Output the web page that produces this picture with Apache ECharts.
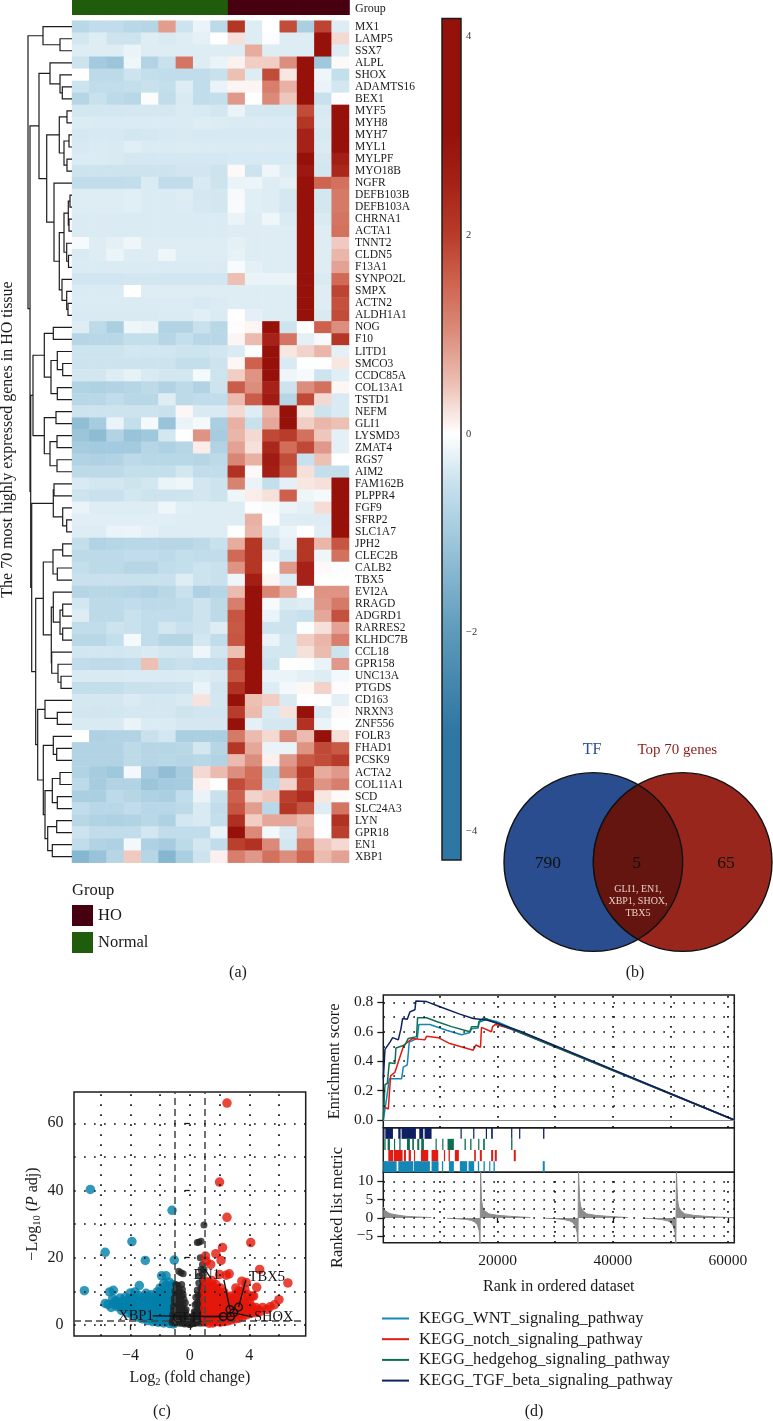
<!DOCTYPE html>
<html><head><meta charset="utf-8">
<style>html,body{margin:0;padding:0;background:#fff}#c{width:773px;height:1421px}</style>
<script src="https://cdn.jsdelivr.net/npm/echarts@6/dist/echarts.min.js"></script></head>
<body><div id="c"></div>
<script>
const FONT='"Liberation Serif",serif', INK='#1a1a1a';
const genes=['MX1','LAMP5','SSX7','ALPL','SHOX','ADAMTS16','BEX1','MYF5','MYH8','MYH7','MYL1','MYLPF','MYO18B','NGFR','DEFB103B','DEFB103A','CHRNA1','ACTA1','TNNT2','CLDN5','F13A1','SYNPO2L','SMPX','ACTN2','ALDH1A1','NOG','F10','LITD1','SMCO3','CCDC85A','COL13A1','TSTD1','NEFM','GLI1','LYSMD3','ZMAT4','RGS7','AIM2','FAM162B','PLPPR4','FGF9','SFRP2','SLC1A7','JPH2','CLEC2B','CALB2','TBX5','EVI2A','RRAGD','ADGRD1','RARRES2','KLHDC7B','CCL18','GPR158','UNC13A','PTGDS','CD163','NRXN3','ZNF556','FOLR3','FHAD1','PCSK9','ACTA2','COL11A1','SCD','SLC24A3','LYN','GPR18','EN1','XBP1'];
const sampleGroups=['Normal','Normal','Normal','Normal','Normal','Normal','Normal','Normal','Normal','HO','HO','HO','HO','HO','HO','HO'];
const heatValues=[
[-.7,-.6,-.6,-.7,-.75,.85,-.45,-.2,-.65,2.1,-.3,0,1.8,-.9,1.9,-.3],
[-.4,-.3,-.45,-.45,-.3,-.35,-.3,-.25,0,.25,-.3,-.05,-.3,-.3,3,.3],
[-.3,-.3,-.3,-.2,-.3,-.3,-.3,-.3,-.3,-.3,.7,-.3,-.3,-.3,3,-.3],
[-.45,-1,-1.1,-.15,-.8,-.5,1.3,-.3,-.2,.1,.4,.4,1,3.2,-1.05,.05],
[0,-.65,-.65,-.45,-.55,-.6,-.6,-.6,-.5,.5,-.3,1.8,.2,3.2,-.15,-.55],
[-.45,-.6,-.6,-.55,-.5,-.55,-.3,-.6,-.2,.08,.08,1.2,.65,3.2,-.2,-.4],
[-.75,-.5,-.65,-.7,-.05,-.6,-.35,-.6,-.55,.9,0,1.05,.45,3.2,-.5,0],
[-.4,-.4,-.4,-.38,-.38,-.38,-.33,-.36,-.4,-.2,-.38,-.4,-.4,1.8,-.36,3.2],
[-.32,-.33,-.33,-.33,-.33,-.33,-.33,-.3,-.32,-.33,-.33,-.33,-.33,2.1,-.33,3.2],
[-.38,-.36,-.36,-.4,-.38,-.36,-.35,-.36,-.36,-.36,-.36,-.36,-.36,2.5,-.36,3.2],
[-.36,-.33,-.35,-.28,-.33,-.33,-.32,-.33,-.33,-.33,-.33,-.33,-.33,2.5,-.33,3.2],
[-.33,-.33,-.35,-.38,-.38,-.38,-.38,-.38,-.38,-.36,-.36,-.36,-.36,3,-.38,2.6],
[-.45,-.45,-.45,-.45,-.45,-.45,-.42,-.42,-.45,.05,-.45,-.15,-.3,2.8,-.4,2.4],
[-.6,-.6,-.6,-.58,-.33,-.6,-.6,-.35,-.45,-.2,-.18,-.3,-.25,3.4,1.5,1.35],
[-.3,-.3,-.3,-.28,-.33,-.33,-.3,-.38,-.4,-.08,-.28,-.3,-.38,3.4,-.4,1.25],
[-.3,-.3,-.3,-.28,-.33,-.33,-.31,-.37,-.4,-.07,-.28,-.3,-.38,3.4,-.4,1.25],
[-.33,-.33,-.33,-.33,-.33,-.33,-.33,-.33,-.33,-.2,-.3,-.15,-.33,3.4,-.35,1.3],
[-.33,-.33,-.33,-.33,-.33,-.33,-.33,-.33,-.33,-.3,-.3,-.3,-.3,3.4,-.3,1.35],
[-.08,-.3,-.25,-.15,-.3,-.3,-.3,-.3,-.3,-.25,-.3,-.3,-.3,3.4,-.3,.42],
[-.35,-.3,-.18,-.3,-.3,-.15,-.3,-.3,-.3,-.22,-.3,-.3,-.3,3.4,-.3,.6],
[-.33,-.33,-.33,-.33,-.33,-.33,-.33,-.33,-.33,-.06,-.25,-.3,-.3,3.4,-.3,.8],
[-.42,-.42,-.42,-.4,-.4,-.42,-.42,-.42,-.42,.5,-.2,-.2,-.2,3.4,-.35,1.45],
[-.33,-.33,-.33,0,-.3,-.3,-.3,-.3,-.3,-.3,-.3,-.3,-.3,3.4,-.3,1.9],
[-.33,-.33,-.33,-.33,-.33,-.33,-.33,-.36,-.33,-.3,-.3,-.3,-.3,3.4,-.3,1.75],
[-.35,-.35,-.35,-.35,-.35,-.33,-.33,-.28,-.33,0,-.25,-.3,-.3,3.4,-.35,1.8],
[-.3,-.65,-.9,-.15,-.2,-.8,-.8,-.5,-.7,.02,.08,3.2,-.45,0,1.55,1],
[-.75,-.7,-.7,-.55,-.55,-.75,-.55,-.7,-.7,.08,.55,2.5,1.3,-.25,-.08,2.1],
[-.45,-.45,-.45,-.4,-.42,-.42,-.45,-.45,-.42,-.33,-.03,3.2,.2,.35,.6,-.25],
[-.45,-.45,-.45,-.45,-.45,-.45,-.55,-.55,-.45,.07,1.55,3.2,-.35,-.02,-.01,.2],
[-.4,-.4,-.3,-.22,-.35,-.4,-.4,-.1,-.45,.4,.95,3.2,-.15,-.08,-.45,-.28],
[-.8,-.85,-.8,-.75,-.65,-.8,-.65,-.8,-.45,1.6,1,2.5,-.45,1,1.35,.07],
[-.7,-.7,-.6,-.7,-.7,-.3,-.65,-.6,-.6,.55,1.6,2.7,-.75,1.85,.3,-.35],
[-.45,-.45,-.45,-.45,-.45,-.5,.07,-.35,-.35,.3,-.3,.6,3.4,.2,-.45,-.35],
[-1.25,-.95,-.2,-.55,-.1,-1.15,-.2,-.1,-.9,.65,-.5,.75,3.4,.4,.6,.5],
[-1.1,-1.3,-.8,-1.15,-1.05,-.4,0,.95,-.95,.6,.3,1.85,2,1.35,.45,-.25],
[-.95,-1,-1,-1,-.75,-.85,-.75,.15,-.8,.8,.25,2.4,1.4,1.85,.9,-.25],
[-.8,-.85,-.8,-.65,-.7,-.7,-.7,-.75,-.65,1.1,.65,2.7,1.8,-.5,.5,0],
[-.65,-.65,-.65,-.55,-.55,-.55,-.4,-.6,-.6,2.2,.05,2.6,1.65,.25,-.55,-.55],
[-.35,-.4,-.4,-.45,-.4,-.2,-.15,-.4,-.45,1.15,-.2,-.55,-.25,.2,.25,3.2],
[-.45,-.5,-.5,-.4,-.45,-.45,-.45,-.4,-.45,-.15,.15,.25,1.55,-.15,-.1,3.2],
[-.2,-.3,-.3,-.3,-.3,-.15,-.28,-.3,-.3,-.3,-.03,-.07,-.2,-.25,.28,3.2],
[-.28,-.28,-.28,-.28,-.28,-.28,-.3,-.3,-.3,-.3,.65,-.03,-.3,-.3,-.3,3.2],
[-.3,-.3,-.2,-.18,-.25,-.3,-.3,-.3,-.3,0,.6,-.3,-.18,-.02,-.28,3.2],
[-.55,-.8,-.75,-.7,-.7,-.75,-.75,-.65,-.5,.7,2.1,-.45,-.25,2.1,.6,1.7],
[-.65,-.65,-.65,-.6,-.6,-.65,-.55,-.6,-.6,1.45,2.1,-.2,-.4,2.1,-.15,1.35],
[-.55,-.65,-.65,-.75,-.75,-.6,-.55,-.45,-.5,.95,2.1,0,.9,2.5,.05,-.03],
[-.5,-.5,-.5,-.5,-.5,-.5,-.3,-.45,-.5,-.15,2.6,.08,-.3,2.5,-.02,-.02],
[-.75,-.7,-.7,-.75,-.8,-.7,-.5,-.85,-.75,.55,3,1.1,.7,0,.95,.95],
[-.4,-.65,-.65,-.6,-.65,-.65,-.6,-.45,-.65,1.2,3.2,-.08,-.35,-.3,.9,1.25],
[-.3,-.65,-.65,-.5,-.6,-.6,-.6,-.45,-.65,1.7,3,-.2,-.45,-.5,.75,1.75],
[-.6,-.6,-.45,-.5,-.6,-.4,-.5,-.45,-.3,1.65,3.2,-.45,-.45,-.03,.25,.8],
[-.7,-.7,-.55,-.1,-.6,-.75,-.75,-.4,-.6,1.7,3,-.2,-.4,.4,.6,1.2],
[-.42,-.42,-.42,-.38,-.35,-.4,-.42,-.15,-.42,.5,3.2,-.4,-.4,.25,.55,-.45],
[-.6,-.62,-.62,-.58,.5,-.55,-.5,-.55,-.55,1.85,3,-.45,0,-.03,-.2,.9],
[-.35,-.35,-.35,-.33,-.33,-.35,-.33,-.3,-.35,1.7,3.2,-.2,-.2,-.25,-.3,-.12],
[-.55,-.55,-.55,-.48,-.48,-.48,-.45,-.2,-.42,2.2,3.1,-.3,-.12,.06,.35,.02],
[-.38,-.38,-.38,-.33,-.38,-.38,-.35,.22,-.4,3.1,.5,.4,-.35,0,-.02,-.25],
[-.4,-.42,-.4,-.38,-.38,-.38,-.45,-.42,-.42,2,.55,-.35,.22,3.2,-.35,.05],
[-.35,-.35,-.35,-.2,-.33,-.33,-.38,-.38,-.38,3.1,-.25,-.38,-.38,2.2,-.2,-.02],
[0,-.85,-.8,-.8,-.5,-.4,-.9,-.9,-.9,1.25,.55,.3,1,.55,3,.25],
[-.8,-.8,-.8,-.65,-.75,-.75,-.7,-.4,-.75,2.1,.75,-.2,-.2,.95,1.85,1.65],
[-.8,-.8,-.8,-.65,-.75,-.7,-.75,-.7,-.8,.55,1,.12,.9,1.65,1.8,2],
[-.8,-.95,-1.05,-.12,-.95,-1.25,-.95,.3,.55,1,1.4,-.75,1.15,2.05,.7,.9],
[-.65,-.95,-.8,-.8,-1.1,-1,-.95,.12,0,1.8,1.45,-.6,.35,1.9,.95,1.2],
[-.9,-.9,-.65,-.75,-.85,-.9,-.6,-.2,-.5,1.55,.35,.45,1.95,2.3,.2,.04],
[-.6,-.7,-.7,-.6,-.7,-.7,-.65,-.35,-.6,1.7,.85,-.7,2.1,1.7,-.3,1.3],
[-.7,-.8,-.85,-.8,-.7,-.85,-.4,-.35,-.55,2.25,.4,.75,.75,.55,-.03,2.2],
[-.45,-.6,-.6,-.6,-.4,-.6,-.6,-.6,-.2,3,1.05,-.12,-.35,.65,0,1.95],
[-.6,-.8,-.85,-.12,-.85,-.95,-.65,-.4,-.6,1.95,2.2,1.05,-.4,1.25,.45,.3],
[-1.4,-1.15,-.75,.42,-.75,-1.4,-.9,-.45,.12,1.2,.9,1.35,1,1.5,.55,.8]
];
// value -> colour stops for the heat scale
const scaleStops=[-4.5,-4,-3.5,-3,-2.5,-2,-1.5,-1,-.5,0,.5,1,1.5,2,2.5,3,3.5,4,4.5];
const scaleColors=['#2e76a3','#2e76a3','#2e76a3','#2e76a3','#4487ae','#5d9aba','#7fb2cc','#a3cade','#c8e1ed','#ffffff','#edc0b4','#dc8e7e','#cf6551','#b83c2a','#a62218','#96110a','#96110a','#96110a','#96110a'];
const colorbarTicks=[-4,-2,0,2,4];
// dendrogram: [branch position, childA, childB]; a number child is a gene row
const treeA=[43,0,[60,1,2]];
const treeB=[50,3,[60,4,[62.3,5,6]]];
const treeC=[46.7,[59.3,[67,7,8],[64,[69,9,10],[67,11,12]]],[54,13,[59.3,[64,[68.3,[70,14,15],[69,16,17]],[66.7,18,[68.5,19,20]]],[62,21,[66.7,22,[68,23,24]]]]]];
const treeM=[33,[44.3,[53.3,25,26],[51,[57.3,27,[62.7,28,29]],[57.3,30,31]]],[44.3,[56,32,33],[50,[57,34,35],[57,36,37]]]];
const treeT=[53.3,[54,38,39],[62.7,40,[66.7,41,42]]];
const treeF=[43.3,[53,[62.7,43,44],[57.3,45,46]],[51.3,[53.3,47,[60,[62.7,48,49],[62.7,50,51]]],[51.7,52,[58,53,[61,54,55]]]]];
const treeS=[37.7,[45,56,[57.3,57,58]],[43.3,[53.3,59,[56.7,60,61]],[45,[52.3,[60,62,63],[57.3,64,65]],[47.7,[56.7,66,67],[52.3,68,69]]]]];
const treeRoot=[28,treeA,[30,[39,treeB,treeC],[30.7,treeM,[31.7,treeT,[35.7,treeF,treeS]]]]];

const vennNames=['TF','Top 70 genes'];
const vennCounts=[790,5,65];
const vennShared=['GLI1, EN1,','XBP1, SHOX,','TBX5'];

const volcanoDown=[[-6.7,40.3],[-1.2,34.1],[-3.9,24.8],[-5.7,21.6],[-3,19.2],[-1.05,19.3],[-7.1,10.2],[-5.7,6.4],[-5.5,6.1],[-5.3,5.2],[-5.4,9.8],[-5.15,10.3],[-5,7.2],[-4.9,5.4],[-4.8,6.5],[-4.6,4.3],[-4.5,7],[-4.3,5.2],[-4.2,3.6],[-4.1,7.8],[-4,9.5],[-3.9,6],[-3.85,2.9],[-3.75,4.5],[-3.7,9.8],[-3.6,7.4],[-3.5,2.3],[-3.45,5.5],[-3.4,11.7],[-3.3,3.8],[-3.25,8.1],[-3.2,1.8],[-3.1,6.2],[-3,4.6],[-2.95,9.4],[-2.85,1.3],[-2.8,7.4],[-2.75,3],[-2.65,5.6],[-2.6,9],[-2.5,1],[-2.45,7.2],[-2.4,3.8],[-2.3,2.1],[-2.25,5.3],[-2.2,9.8],[-2.15,.8],[-2.1,7.4],[-2.05,3.6],[-2,11],[-1.95,5.4],[-1.9,1.6],[-1.85,9],[-1.9,14.6],[-1.75,.6],[-1.7,7.2],[-1.65,3],[-1.6,11.8],[-1.55,5],[-1.6,14.6],[-1.5,1.2],[-1.45,9.4],[-1.4,12.8],[-1.35,7],[-1.35,.4],[-1.3,3],[-1.25,10.8],[-1.25,5],[-1.2,1.4],[-1.15,8.4],[-1.15,12],[-1.1,3.6],[-1.1,.3],[-1.05,6.2],[-1.05,10],
[-5.2,7.8],[-5.1,6.2],[-4.7,8],[-4.7,5.6],[-4.4,6.1],[-4.35,8.2],[-4.1,4.6],[-4.05,6.5],[-3.85,8],[-3.65,3.2],[-3.6,5.2],[-3.55,6.3],[-3.45,8.8],[-3.4,3],[-3.2,4.9],[-3.15,7.2],[-3.1,2.7],[-3,8.4],[-2.95,3.4],[-2.9,5.5],[-2.9,2],[-2.7,8.4],[-2.7,4.6],[-2.6,2.2],[-2.55,6.4],[-2.45,4.8],[-2.4,8.2],[-2.35,1.4],[-2.3,6.4],[-2.2,4.4],[-2.2,2.9],[-2.15,8.5],[-2.05,6.4],[-2,1],[-2,9.6],[-1.95,2.6],[-1.9,4.4],[-1.85,6.4],[-1.8,8],[-1.8,10.5],[-1.75,2.2],[-1.75,12.4],[-1.7,4.2],[-1.65,6],[-1.6,1.2],[-1.6,9.6],[-1.5,8],[-1.5,2.3],[-1.5,4],[-1.5,6.2],[-1.45,11],[-1.4,3.8],[-1.35,5.8],[-1.3,1.4],[-1.3,9],[-1.2,2.6],[-1.2,7.2],[-1.15,4.4],[-1.1,1.2],[-1.1,5.4],[-1.05,2.2],[-1.05,8.2],[-1.05,11.6]];
const volcanoFlat=[[-1.2,.8],[-1.15,3],[-1.1,5.5],[-1.05,8],[-1,.5],[-1,2.2],[-1,10],[-.95,12],[-.9,4],[-.9,6.5],[-.85,1],[-.8,8.5],[-.8,11.8],[-.75,3],[-.7,.5],[-.7,5.4],[-.65,10],[-.6,7.4],[-.6,2],[-.55,12],[-.5,.5],[-.5,4],[-.45,6],[-.45,9],[-.4,2],[-.35,.3],[-.3,3.8],[-.3,6.6],[-.25,1.3],[-.2,2.8],[-.15,.4],[-.1,1.2],[-.05,.2],[0,.1],[-.75,16],[-.6,15.5],[-.45,15.2],[.05,.2],[.1,1],[.15,.4],[.2,2.6],[.25,1],[.3,4],[.3,.4],[.35,6],[.4,2.4],[.4,8.2],[.45,.6],[.5,4.6],[.5,10.4],[.55,7],[.55,1.6],[.6,12.5],[.6,3],[.65,9],[.65,14.6],[.7,5.5],[.7,.5],[.75,11],[.75,16.5],[.8,2.2],[.8,7.8],[.85,13.2],[.85,18],[.9,4.5],[.9,10],[.95,.6],[.95,6.8],[.7,20],[.95,29.7],[.6,24.6],[.75,24.9],[.5,24.5],
[-1.15,1.6],[-1.1,4.2],[-1.05,6.8],[-.95,3.2],[-.95,9],[-.9,1.8],[-.9,11],[-.85,5.2],[-.8,7.2],[-.75,1.8],[-.75,4.4],[-.7,9.6],[-.65,3.4],[-.65,6.2],[-.6,.9],[-.55,5],[-.55,8.6],[-.5,2.8],[-.5,10.5],[-.45,1.2],[-.4,4.6],[-.4,7.6],[-.35,2.8],[-.3,1.2],[-.25,4.6],[.25,2.6],[.35,1.6],[.35,3.6],[.45,3.2],[.45,6.4],[.5,1.2],[.55,8.8],[.6,5.4],[.65,2],[.65,4],[.7,7],[.75,3.6],[.75,9.4],[.8,5.6],[.8,1],[.85,3],[.85,11.6],[.9,7.8],[.9,1.8],[.95,3.4],[.95,12],[.95,9],[.9,15],[.95,16.5]];
const volcanoUp=[[2.5,66],[2,42.5],[2.5,32],[4.1,24.5],[2.2,23],[1.05,20.5],[1.75,21.2],[2.1,19.2],[1.1,19],[1.4,18],[2,15],[2.65,15.2],[2.45,14.8],[4.7,16.5],[6.6,12.5],[3.5,13],[3.8,12.6],[4.5,11.2],[3.7,10.6],[3.1,11],[3.3,10.2],[4.3,8.6],[3.9,9],[1.05,1],[1.05,3.6],[1.05,6.2],[1.05,8.8],[1.05,11.4],[1.05,13],[1.3,.5],[1.3,2.6],[1.3,5.2],[1.3,7.8],[1.3,10.2],[1.3,12.6],[1.55,.6],[1.55,3.6],[1.55,6.4],[1.55,9],[1.55,11.6],[1.5,13.2],[1.8,1],[1.8,2.8],[1.8,5],[1.8,7.6],[1.8,10],[1.75,12],[2.05,.8],[2.05,3.6],[2.05,6.2],[2.05,8.8],[2.05,11],[2.3,1],[2.3,3],[2.3,5.2],[2.3,7.6],[2.3,9.6],[2.55,1.2],[2.55,3.4],[2.55,6],[2.55,8.2],[2.8,1.5],[2.8,4],[2.8,6.4],[2.8,8.6],[3.05,1.8],[3.05,4.2],[3.05,6.4],[3.1,9.2],[3.3,2],[3.3,4.4],[3.3,7.2],[3.5,9.8],[3.55,2.4],[3.55,5],[3.6,7.4],[3.8,3],[3.85,5.6],[3.9,8.2],[4.1,3.4],[4.15,5.6],[4.2,8.5],[4.4,3.6],[4.45,5.2],[4.75,4],[4.9,5.2],[5.2,4.6],[5.4,5.4],[5.7,6],[6,7.5],
[1,2.3],[1,5],[1,7.5],[1,10],[1.2,1.5],[1.2,4],[1.2,6.5],[1.2,9],[1.2,11.4],[1.45,1.5],[1.45,4.5],[1.45,7.6],[1.45,10.4],[1.7,2],[1.7,3.8],[1.7,6.2],[1.7,8.8],[1.7,11],[1.95,1.6],[1.95,4.6],[1.95,7.4],[1.95,10],[2.2,2],[2.2,4.2],[2.2,6.4],[2.2,8.6],[2.45,2.2],[2.45,4.6],[2.45,7],[2.7,2.6],[2.7,5.2],[2.7,7.4],[2.95,3],[2.95,5.4],[2.95,7.6],[3.2,3.2],[3.2,5.4],[3.2,8.2],[3.45,3.4],[3.45,6.2],[3.7,4],[3.7,6.4],[4,4.6],[4,6.8],[4.3,4.4],[4.6,4.6]];
const volcanoGenes=['EN1','TBX5','SHOX','XBP1','GLI1'];
const volcanoGeneX=[2.7,3.28,2.95,2.75,2.25];
const volcanoGeneY=[4.6,5.3,3.6,2.5,2.5];
const geneLabelX=[1.14,5.18,5.65,-3.63,-.13];
const geneLabelY=[14.9,14.3,2.4,2.7,2.1];
const geneLeadX=[2.29,3.77,4.2,-2.5,.9];
const geneLeadY=[13.4,13.4,2.4,2.7,2.4];
const volcanoGridX=[-6,-4,-2,0,2,4,6];
const volcanoGridY=[0,10,20,30,40,50,60];
const volcanoTicksX=[-4,0,4];
const volcanoTicksY=[0,20,40,60];

const pathways=['KEGG_WNT_signaling_pathway','KEGG_notch_signaling_pathway','KEGG_hedgehog_signaling_pathway','KEGG_TGF_beta_signaling_pathway'];
const pathwayColors=['#1487b4','#e31a12','#0e6e50','#0f2060'];
const esWNT=[[150,0],[730,.147],[1190,.28],[3330,.28],[3620,.36],[4310,.375],[4660,.53],[6050,.555],[6330,.65],[8240,.65],[11130,.61],[13730,.58],[15180,.595],[15470,.62],[16620,.625],[16800,.665],[18070,.685],[19800,.67],[23270,.61],[61100,0]];
const esNotch=[[150,.09],[1020,.075],[1420,.3],[2170,.325],[2750,.395],[3730,.51],[5240,.555],[7370,.545],[7660,.57],[9690,.56],[11710,.52],[15760,.475],[16220,.51],[17030,.495],[17200,.63],[18940,.6],[19110,.635],[19630,.65],[20960,.635],[22980,.61],[61100,0]];
const esHedgehog=[[150,0],[440,.24],[845,.25],[1190,.39],[2170,.385],[2350,.49],[3910,.51],[4490,.555],[5930,.567],[6100,.695],[7660,.695],[9400,.67],[12000,.635],[15180,.6],[15470,.635],[16620,.635],[16740,.67],[17610,.695],[19800,.66],[61100,0]];
const esTGF=[[150,.28],[440,.48],[1306,.53],[1770,.56],[2750,.545],[3210,.62],[3500,.69],[4310,.685],[4770,.735],[5640,.75],[5810,.81],[7660,.805],[9980,.77],[13440,.72],[15760,.69],[18070,.68],[19800,.66],[24140,.6],[61100,0]];
const hitsWNT=[[150,2462],[2751,5352],[5468,8242],[8531,9745],[10323,10554],[11537,12404],[13444,14716],[14947,15929],[16565,16796],[17548,17779],[18530,18704],[19282,19513],[27836,28183]];
const hitsNotch=[[1017,1884],[2000,3502],[3734,4080],[4543,4947],[5468,5641],[6681,7953],[8531,9687],[10670,10843],[11479,11710],[12577,13271],[15929,16218],[16912,17259],[18877,19224],[19513,19860],[22808,23154]];
const hitsHedgehog=[[323,554],[901,1306],[2000,2115],[2924,3156],[4254,4774],[5179,5468],[6046,6392],[6739,7202],[9225,9398],[10381,10554],[11305,12404],[14253,14484],[15236,15467],[16623,16796],[17490,17779],[22345,22576]];
const hitsTGF=[[150,323],[497,1826],[2751,3156],[3329,5814],[6392,7086],[7317,8531],[13560,13733],[15756,15872],[17952,18068],[18877,19166],[22345,22461],[23732,23848],[27894,28125]];
const metricRank=[150,300,600,1000,1500,2500,4000,6000,8500,null,11200,13000,14500,15500,16000,16500,16800,16950,17000,17050,17100,17200,17400,17700,18500,20000,22000,24000,25700,null,28300,30000,31500,32500,33000,33500,33800,33950,34000,34050,34150,34250,34450,34800,35500,37000,39000,41000,42600,null,45200,47000,48500,49500,50000,50500,50800,50950,51000,51050,51150,51250,51450,51800,52500,54000,56000,58000,61000];
const metricValue=[3,2.2,1.7,1.4,1.1,.8,.45,.25,.1,null,-.1,-.25,-.4,-.7,-1.1,-1.9,-3.5,-7,-7,12.5,12.5,5,3,2,1.1,.7,.45,.25,.1,null,-.1,-.2,-.45,-.8,-1.2,-2.2,-4,-7,-7,12.5,12.5,5,3,2,1.1,.7,.45,.25,.1,null,-.1,-.2,-.45,-.8,-1.2,-2.2,-4,-7,-7,12.5,12.5,5,3,2,1.1,.7,.45,.25,.05];
const rankGrid=[10000,20000,30000,40000,50000,60000];
const esGrid=[.1,.2,.3,.4,.5,.6,.7,.8];
const metricGrid=[-5,-2.5,0,2.5,5,7.5,10];
const rankTicks=[20000,40000,60000];
const esTicks=[0,.2,.4,.6,.8];
const metricTicks=[-5,0,5,10];

// ---- build ----
const minus=v=>String(v).replace('-','\u2212');
const text=(style)=>Object.assign({fontFamily:FONT,color:INK},style);
const hidden=(o)=>Object.assign({show:false},o);
const heatData=[];
heatValues.forEach((r,y)=>r.forEach((v,x)=>heatData.push([x,y,v])));
const samples=sampleGroups.map((g,i)=>g+(i+1));

const branches=[];
(function walk(n){
  if(typeof n==='number') return {x:72,y:n};
  const a=walk(n[1]),b=walk(n[2]);
  branches.push([a.x,a.y,n[0],b.y,b.x]);
  return {x:n[0],y:(a.y+b.y)/2};
})(treeRoot);

function dotted(xi,yi,xs,ys,style){
  return {type:'line',xAxisIndex:xi,yAxisIndex:yi,data:[],silent:true,z:1,
    markLine:{silent:true,symbol:'none',label:{show:false},animation:false,
      lineStyle:Object.assign({color:'#111',width:1.7,type:[1.7,8.3]},style||{}),
      data:xs.map(v=>({xAxis:v})).concat(ys.map(v=>({yAxis:v})))}};
}
const frame={show:true,borderColor:'#1c1c1c',borderWidth:1.5,backgroundColor:'transparent'};
const barAxis=(g)=>hidden({type:'value',gridIndex:g,min:0,max:1});
function annotationCell(p,api){
  const c=api.coord([api.value(0),0]), top=api.coord([api.value(0),1]);
  const w=api.size([1,0])[0];
  return {type:'rect',shape:{x:c[0]-w/2,y:top[1],width:w+.8,height:c[1]-top[1]},style:{fill:api.visual('color')}};
}

const option={
  animation:false,
  backgroundColor:'#fff',
  textStyle:{fontFamily:FONT,color:INK},
  visualMap:[{show:false,type:'continuous',seriesIndex:2,min:-4.5,max:4.5,inRange:{color:scaleColors}}],
  legend:[
    {left:72,top:905,orient:'vertical',itemWidth:21,itemHeight:21,itemGap:6,selectedMode:false,data:['HO','Normal'],icon:'rect',
     textStyle:text({fontSize:16.5}),padding:0,itemStyle:{borderWidth:0}},
    {left:382,top:1310,orient:'vertical',itemWidth:27,itemHeight:2,icon:'rect',itemGap:3.7,selectedMode:false,data:pathways,
     textStyle:text({fontSize:16.5,padding:[0,0,0,5]}),padding:0}
  ],
  grid:[
    {left:72,top:0,width:277,height:15,show:false},                 //0 annotation
    {left:72,top:20.7,width:277,height:842,show:false},             //1 heat
    {left:0,top:20.7,width:72,height:842,show:false},               //2 tree
    {left:442,top:18.5,width:19,height:841.5,show:false},           //3 colorbar
    {left:504,top:773,width:268,height:178,show:false},             //4 venn
    Object.assign({left:74,top:1092,width:231.7,height:244},frame), //5 volcano
    Object.assign({left:383.3,top:995,width:351,height:132.7},frame),//6 ES
    Object.assign({left:383.3,top:1127.7,width:351,height:44.6},frame),//7 rug
    Object.assign({left:383.3,top:1172.3,width:351,height:70.4},frame)//8 metric
  ],
  xAxis:[
    hidden({type:'category',gridIndex:0,data:samples}),
    hidden({type:'category',gridIndex:1,data:samples}),
    hidden({type:'value',gridIndex:2,min:0,max:72}),
    barAxis(3),
    hidden({type:'value',gridIndex:4,min:0,max:3}),
    {type:'value',gridIndex:5,min:-7.8,max:7.8,splitLine:{show:false},axisLine:{show:false},
     axisTick:{show:true,length:5,lineStyle:{color:'#1c1c1c',width:1.3},customValues:volcanoTicksX},
     axisLabel:{show:true,customValues:volcanoTicksX,formatter:minus,margin:12,fontFamily:FONT,fontSize:16,color:INK,hideOverlap:false,showMinLabel:true,showMaxLabel:true},
     name:'{n|Log}{s|2}{n| (fold change)}',nameLocation:'middle',nameGap:32,
     nameTextStyle:{rich:{n:{fontFamily:FONT,fontSize:16,color:INK,lineHeight:20},s:{fontFamily:FONT,fontSize:10.5,color:INK,verticalAlign:'bottom',lineHeight:20}}}},
    hidden({type:'value',gridIndex:6,min:150,max:61100}),
    hidden({type:'value',gridIndex:7,min:150,max:61100}),
    {type:'value',gridIndex:8,min:150,max:61100,splitLine:{show:false},axisLine:{show:false},
     axisTick:{show:true,length:5,lineStyle:{color:'#1c1c1c',width:1.3},customValues:rankTicks},
     axisLabel:{show:true,customValues:rankTicks,formatter:v=>String(v),margin:10,fontFamily:FONT,fontSize:15.5,color:INK},
     name:'Rank in ordered dataset',nameLocation:'middle',nameGap:36,nameTextStyle:text({fontSize:16})}
  ],
  yAxis:[
    barAxis(0),
    {type:'category',gridIndex:1,data:genes,inverse:true,position:'right',axisLine:{show:false},axisTick:{show:false},splitLine:{show:false},
     axisLabel:{interval:0,margin:6,fontFamily:FONT,fontSize:11.5,color:INK}},
    hidden({type:'value',gridIndex:2,min:-.5,max:69.5,inverse:true}),
    {type:'value',gridIndex:3,min:-4.29,max:4.18,position:'right',splitLine:{show:false},axisLine:{show:false},
     axisTick:{show:true,length:6,lineStyle:{color:'#222',width:1},customValues:colorbarTicks},
     axisLabel:{show:true,customValues:colorbarTicks,formatter:minus,margin:5,fontFamily:FONT,fontSize:10.5,color:'#333'}},
    hidden({type:'value',gridIndex:4,min:-1,max:1}),
    {type:'value',gridIndex:5,min:-3.3,max:69.3,splitLine:{show:false},axisLine:{show:false},
     axisTick:{show:true,length:5,lineStyle:{color:'#1c1c1c',width:1.3},customValues:volcanoTicksY},
     axisLabel:{show:true,customValues:volcanoTicksY,margin:10.5,fontFamily:FONT,fontSize:16,color:INK},
     name:'{n|\u2212Log}{s|10}{n| (}{i|P}{n| adj)}',nameLocation:'middle',nameGap:31,
     nameTextStyle:{rich:{n:{fontFamily:FONT,fontSize:16,color:INK,lineHeight:20},i:{fontFamily:FONT,fontStyle:'italic',fontSize:16,color:INK,lineHeight:20},s:{fontFamily:FONT,fontSize:10.5,color:INK,verticalAlign:'bottom',lineHeight:20}}}},
    {type:'value',gridIndex:6,min:-.052,max:.85,splitLine:{show:false},axisLine:{show:false},
     axisTick:{show:true,length:6,lineStyle:{color:'#1c1c1c',width:1.3},customValues:esTicks},
     axisLabel:{show:true,customValues:esTicks,formatter:v=>v.toFixed(1),margin:10,fontFamily:FONT,fontSize:15.5,color:INK},
     name:'Enrichment score',nameLocation:'middle',nameGap:40,nameTextStyle:text({fontSize:16.5})},
    hidden({type:'value',gridIndex:7,min:0,max:4,inverse:true}),
    {type:'value',gridIndex:8,min:-6.8,max:12.5,splitLine:{show:false},axisLine:{show:false},
     axisTick:{show:true,length:6,lineStyle:{color:'#1c1c1c',width:1.3},customValues:metricTicks},
     axisLabel:{show:true,customValues:metricTicks,formatter:minus,margin:10,fontFamily:FONT,fontSize:15.5,color:INK},
     name:'Ranked list metric',nameLocation:'middle',nameGap:37,nameTextStyle:text({fontSize:16.5})}
  ],
  series:[
    // 0,1 annotation bar
    {name:'Normal',type:'custom',xAxisIndex:0,yAxisIndex:0,silent:true,itemStyle:{color:'#1f5c0c'},renderItem:annotationCell,
     data:sampleGroups.map((g,i)=>[i,g]).filter(d=>d[1]==='Normal').map(d=>[d[0]])},
    {name:'HO',type:'custom',xAxisIndex:0,yAxisIndex:0,silent:true,itemStyle:{color:'#47000f'},renderItem:annotationCell,
     data:sampleGroups.map((g,i)=>[i,g]).filter(d=>d[1]==='HO').map(d=>[d[0]])},
    // 2 heat
    {type:'heatmap',xAxisIndex:1,yAxisIndex:1,data:heatData,itemStyle:{borderWidth:0},progressive:0},
    // 3 tree
    {type:'custom',xAxisIndex:2,yAxisIndex:2,data:branches,silent:true,renderItem(p,api){
      const b=branches[p.dataIndex];
      const pts=[[b[0],b[1]],[b[2],b[1]],[b[2],b[3]],[b[4],b[3]]].map(c=>api.coord(c));
      return {type:'polyline',shape:{points:pts},style:{stroke:'#1c1c1c',lineWidth:1.2,fill:null}};
    }},
    // 4 colour bar
    {type:'custom',xAxisIndex:3,yAxisIndex:3,data:[[-4.29,4.18]],silent:true,renderItem(p,api){
      const lo=api.value(0),hi=api.value(1);
      const a=api.coord([0,hi]),b=api.coord([1,lo]);
      const stops=scaleStops.map((v,i)=>({offset:(hi-v)/(hi-lo),color:scaleColors[i]})).filter(s=>s.offset>=0&&s.offset<=1);
      stops.sort((m,n)=>m.offset-n.offset);
      return {type:'rect',shape:{x:a[0],y:a[1],width:b[0]-a[0],height:b[1]-a[1]},
        style:{fill:new echarts.graphic.LinearGradient(0,0,0,1,stops),stroke:'#1c1c1c',lineWidth:1.5}};
    }},
    // 5 venn
    {type:'custom',xAxisIndex:4,yAxisIndex:4,data:[vennCounts],silent:true,renderItem(p,api){
      const c1=api.coord([1,0]),c2=api.coord([2,0]);
      const r=api.size([1,0])[0];
      const mx=(c1[0]+c2[0])/2, h=Math.sqrt(r*r-(mx-c1[0])*(mx-c1[0]));
      const stroke={stroke:'#111',lineWidth:1.4};
      const label=(s,x,y,st)=>{const q=api.coord([x,y]);return {type:'text',x:q[0],y:q[1],style:Object.assign({text:s,align:'center',verticalAlign:'middle',fontFamily:FONT},st)};};
      return {type:'group',children:[
        {type:'circle',shape:{cx:c1[0],cy:c1[1],r:r},style:Object.assign({fill:'#2a4d8f'},stroke)},
        {type:'circle',shape:{cx:c2[0],cy:c2[1],r:r},style:Object.assign({fill:'#98261c'},stroke)},
        {type:'path',shape:{pathData:`M ${mx} ${c1[1]-h} A ${r} ${r} 0 0 1 ${mx} ${c1[1]+h} A ${r} ${r} 0 0 1 ${mx} ${c1[1]-h} Z`},style:Object.assign({fill:'#64150f'},stroke)},
        label(vennNames[0],.985,1.26,{fontSize:16,fill:'#2a4d8f'}),
        label(vennNames[1],1.94,1.26,{fontSize:15,fill:'#8a1f18'}),
        label(String(api.value(0)),.49,-.02,{fontSize:17.5,fill:'#111'}),
        label(String(api.value(1)),1.485,-.02,{fontSize:17.5,fill:'#111'}),
        label(String(api.value(2)),2.485,-.02,{fontSize:17.5,fill:'#111'}),
        label(vennShared[0],1.5,-.31,{fontSize:10,fill:'#e8cfc9'}),
        label(vennShared[1],1.5,-.44,{fontSize:10,fill:'#e8cfc9'}),
        label(vennShared[2],1.5,-.58,{fontSize:10,fill:'#e8cfc9'})
      ]};
    }},
    // 6 volcano grid
    dotted(5,5,volcanoGridX,volcanoGridY),
    // 7-9 points
    {type:'scatter',xAxisIndex:5,yAxisIndex:5,data:volcanoDown,symbolSize:9.5,z:3,itemStyle:{color:'#0080aa',opacity:.8},silent:true},
    {type:'scatter',xAxisIndex:5,yAxisIndex:5,data:volcanoFlat,symbolSize:7,z:3,itemStyle:{color:'#222222',opacity:.8},silent:true},
    {type:'scatter',xAxisIndex:5,yAxisIndex:5,data:volcanoUp,symbolSize:9.5,z:3,itemStyle:{color:'#e5170a',opacity:.8},silent:true},
    // 10 thresholds
    {type:'line',xAxisIndex:5,yAxisIndex:5,data:[],silent:true,z:4,
     markLine:{silent:true,symbol:'none',label:{show:false},animation:false,z:4,lineStyle:{color:'#444',width:1.5,type:[7,4]},
       data:[{xAxis:-1},{xAxis:1},{yAxis:1.3}]}},
    // 11 labelled genes
    {type:'custom',xAxisIndex:5,yAxisIndex:5,z:5,silent:true,data:volcanoGenes.map((g,i)=>[volcanoGeneX[i],volcanoGeneY[i]]),renderItem(p,api){
      const i=p.dataIndex, a=api.coord([volcanoGeneX[i],volcanoGeneY[i]]), l=api.coord([geneLeadX[i],geneLeadY[i]]), t=api.coord([geneLabelX[i],geneLabelY[i]]);
      return {type:'group',children:[
        {type:'line',shape:{x1:l[0],y1:l[1],x2:a[0],y2:a[1]},style:{stroke:'#111',lineWidth:1.4}},
        {type:'circle',shape:{cx:a[0],cy:a[1],r:3.8},style:{fill:null,stroke:'#111',lineWidth:1.5}},
        {type:'text',x:t[0],y:t[1],style:{text:volcanoGenes[i],align:'center',verticalAlign:'middle',fontFamily:FONT,fontSize:14.5,fill:'#111'}}
      ]};
    }},
    // 12 ES grid
    dotted(6,6,rankGrid,esGrid),
    {type:'line',xAxisIndex:6,yAxisIndex:6,data:[],silent:true,z:1,markLine:{silent:true,symbol:'none',label:{show:false},animation:false,lineStyle:{color:'#8a8a8a',width:1.2,type:'solid'},data:[{yAxis:0}]}},
    // ES curves
    {name:pathways[0],type:'line',xAxisIndex:6,yAxisIndex:6,data:esWNT,showSymbol:false,symbol:'none',z:3,lineStyle:{color:pathwayColors[0],width:1.5},itemStyle:{color:pathwayColors[0]},silent:true},
    {name:pathways[1],type:'line',xAxisIndex:6,yAxisIndex:6,data:esNotch,showSymbol:false,symbol:'none',z:3,lineStyle:{color:pathwayColors[1],width:1.5},itemStyle:{color:pathwayColors[1]},silent:true},
    {name:pathways[2],type:'line',xAxisIndex:6,yAxisIndex:6,data:esHedgehog,showSymbol:false,symbol:'none',z:3,lineStyle:{color:pathwayColors[2],width:1.5},itemStyle:{color:pathwayColors[2]},silent:true},
    {name:pathways[3],type:'line',xAxisIndex:6,yAxisIndex:6,data:esTGF,showSymbol:false,symbol:'none',z:3,lineStyle:{color:pathwayColors[3],width:1.5},itemStyle:{color:pathwayColors[3]},silent:true},
    // rug
    {type:'custom',xAxisIndex:7,yAxisIndex:7,silent:true,
     data:[hitsTGF,hitsHedgehog,hitsNotch,hitsWNT].flatMap((hits,row)=>hits.map(h=>[h[0],h[1],row])),
     renderItem(p,api){
      const row=api.value(2);
      const a=api.coord([api.value(0),row]), b=api.coord([api.value(1),row+1]);
      const colors=[pathwayColors[3],pathwayColors[2],pathwayColors[1],pathwayColors[0]];
      return {type:'rect',shape:{x:a[0],y:a[1],width:Math.max(b[0]-a[0],1.2),height:b[1]-a[1]},style:{fill:colors[row]}};
    }},
    // metric
    dotted(8,8,rankGrid,metricGrid),
    {type:'line',xAxisIndex:8,yAxisIndex:8,data:metricRank.map((r,i)=>[r,metricValue[i]]),connectNulls:false,showSymbol:false,symbol:'none',z:3,silent:true,
     lineStyle:{color:'#8c8c8c',width:1},areaStyle:{color:'#8c8c8c',opacity:1,origin:0}}
  ],
  graphic:[
    {type:'text',x:355,y:9,z:10,style:{text:'Group',verticalAlign:'middle',fontFamily:FONT,fontSize:12,fill:INK}},
    {type:'text',x:72,y:882,z:10,style:{text:'Group',fontFamily:FONT,fontSize:16.5,fill:INK}},
    {type:'text',x:8,y:439.5,rotation:Math.PI/2,z:10,style:{text:'The 70 most highly expressed genes in HO tissue',align:'center',verticalAlign:'middle',fontFamily:FONT,fontSize:16,fill:INK}},
    {type:'text',x:238,y:973,z:10,style:{text:'(a)',align:'center',verticalAlign:'middle',fontFamily:FONT,fontSize:16,fill:INK}},
    {type:'text',x:635,y:973,z:10,style:{text:'(b)',align:'center',verticalAlign:'middle',fontFamily:FONT,fontSize:16,fill:INK}},
    {type:'text',x:162,y:1412,z:10,style:{text:'(c)',align:'center',verticalAlign:'middle',fontFamily:FONT,fontSize:16,fill:INK}},
    {type:'text',x:534,y:1412,z:10,style:{text:'(d)',align:'center',verticalAlign:'middle',fontFamily:FONT,fontSize:16,fill:INK}}
  ]
};
echarts.init(document.getElementById('c'),null,{renderer:'canvas'}).setOption(option);
</script></body></html>
